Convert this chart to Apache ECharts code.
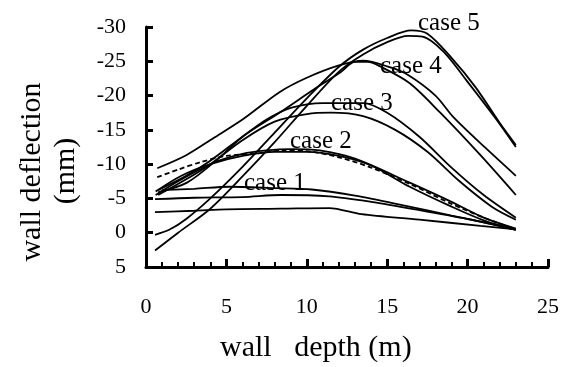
<!DOCTYPE html>
<html>
<head>
<meta charset="utf-8">
<script src="https://cdn.jsdelivr.net/npm/echarts@6/dist/echarts.min.js"></script>
<style>
  html, body { margin: 0; padding: 0; background: #fff; }
  #chart { width: 562px; height: 367px; }
</style>
</head>
<body>
<div id="chart"></div>
<script>
var chart = echarts.init(document.getElementById('chart'));

// wall depth (m), wall deflection (mm) pairs
const case5a = [[0.56, 2.6], [2, 0], [4, -3.5], [6, -8.2], [8, -13.2], [10, -18.5], [12, -23.5], [13.5, -26], [15, -27.8], [16.3, -28.7], [17.2, -28.6], [18.5, -26.4], [20, -22], [21.7, -16.8], [23, -12.5]];
const case5b = [[0.56, 0.3], [1.5, -0.5], [2.5, -2], [4, -5], [6, -9.6], [8, -14.6], [10, -19.6], [12, -24.2], [13.5, -26.7], [15, -28.4], [16.5, -29.5], [17.5, -29], [19, -25.5], [20.5, -21.2], [22, -16], [23, -12.8]];
const case4a = [[0.7, -9.4], [2.5, -11.3], [4.2, -13.8], [6, -16.5], [8.3, -20.5], [10, -22.6], [12, -24.4], [13.5, -25.1], [15.2, -24.1], [16.3, -23], [18, -20], [19.1, -16.9], [21.1, -12.4], [23, -8.3]];
const case4b = [[0.75, -5.9], [2.55, -7.3], [4.5, -10.8], [6, -14], [8.3, -17.5], [10.5, -21], [12.1, -23.4], [13, -24.9], [13.8, -24.9], [14.6, -24.2], [16.4, -21.8], [18.3, -17.5], [20.8, -11.3], [23, -5.5]];
const case3a = [[0.75, -6.2], [2.5, -8.3], [4, -10.5], [6, -14], [7.5, -16.5], [9, -18.2], [11, -18.9], [13.5, -18.9], [15, -17.5], [17, -14], [19, -9.5], [21, -5.5], [23, -2.2]];
const case3b = [[0.75, -5.5], [2.5, -7.8], [4, -10], [6, -13.5], [8, -16.2], [10, -17.3], [11.5, -17.5], [13.5, -17], [15.5, -15], [17.5, -11.8], [19.5, -7.5], [21.5, -3.8], [23, -1.9]];
const case2a = [[0.7, -8.1], [2, -9.2], [3.4, -10.3], [5, -11.2], [7.1, -11.6], [8.5, -12], [10, -11.9], [12, -11], [14, -9.5], [16.5, -7], [19, -4.2], [21, -2.2], [23, -0.5]];
const case2b = [[0.6, -5.5], [2, -7.5], [4.2, -10.2], [6, -11.5], [7.5, -12], [9, -12.2], [10.8, -12], [13, -10.8], [16.4, -7.3], [19, -4.5], [21, -2.2], [23, -0.6]];
const case2c = [[0.6, -6], [2.2, -8.3], [4, -10], [6, -11.2], [8, -11.8], [10, -11.8], [12, -11.2], [14, -9.8], [16.4, -6.7], [19, -3.8], [21, -1.8], [23, -0.4]];
const case1a = [[1, -6.2], [3, -6.4], [5.2, -6.7], [8, -6.5], [10.3, -6.3], [13, -5.4], [16, -4], [19, -2.5], [21, -1.5], [23, -0.4]];
const case1b = [[0.56, -4.9], [3, -5.1], [6, -5.2], [8.4, -5.5], [11.4, -5.3], [14, -4.5], [17, -3.3], [20, -2], [23, -0.5]];
const case1c = [[0.56, -3], [3, -3.2], [5, -3.4], [8.4, -3.5], [11.4, -3.6], [13.4, -2.7], [17, -1.9], [20.8, -1], [23, -0.5]];

const xTicks = [0, 25, 5];
const yTicks = [-30, 5, 5];

const caseLabels = ['case 5', 'case 4', 'case 3', 'case 2', 'case 1'];

const font = 'Liberation Serif';

function line(data, dashed) {
    return {
        type: 'line',
        data: data,
        showSymbol: false,
        smooth: 0.3,
        lineStyle: {
            color: '#000',
            width: 1.8,
            type: dashed ? [5, 3] : 'solid',
        },
        z: 2,
    };
}

chart.setOption({
    animation: false,
    backgroundColor: '#fff',
    grid: { left: 146, right: 13, top: 27, bottom: 100 },
    xAxis: {
        type: 'value',
        min: xTicks[0],
        max: xTicks[1],
        interval: xTicks[2],
        axisLine: { onZero: false, lineStyle: { color: '#000', width: 3 } },
        axisTick: { inside: true, length: 8, lineStyle: { color: '#000', width: 3 } },
        minorTick: { show: true, splitNumber: 5, length: 5, lineStyle: { color: '#000', width: 2 } },
        axisLabel: { color: '#000', fontFamily: font, fontSize: 22, margin: 29 },
        splitLine: { show: false },
    },
    yAxis: {
        type: 'value',
        inverse: true,
        min: yTicks[0],
        max: yTicks[1],
        interval: yTicks[2],
        axisLine: { show: true, onZero: false, lineStyle: { color: '#000', width: 3 } },
        axisTick: { show: true, inside: true, length: 7, lineStyle: { color: '#000', width: 3 } },
        axisLabel: { color: '#000', fontFamily: font, fontSize: 22, margin: 20 },
        splitLine: { show: false },
    },
    graphic: [
        { type: 'text', left: 220, top: 333, style: { text: 'wall   depth (m)', font: '30px "Liberation Serif"', fill: '#000' } },
        { type: 'text', x: 32, y: 172, rotation: Math.PI / 2, style: { text: 'wall deflection', font: '30px "Liberation Serif"', fill: '#000', align: 'center', verticalAlign: 'middle' } },
        { type: 'text', x: 66, y: 171, rotation: Math.PI / 2, style: { text: '(mm)', font: '30px "Liberation Serif"', fill: '#000', align: 'center', verticalAlign: 'middle' } },
        { type: 'text', x: 418, y: 23, style: { text: caseLabels[0], font: '25px "Liberation Serif"', fill: '#000', verticalAlign: 'middle' }, z: 10 },
        { type: 'text', x: 380, y: 66, style: { text: caseLabels[1], font: '25px "Liberation Serif"', fill: '#000', verticalAlign: 'middle' }, z: 10 },
        { type: 'text', x: 331, y: 103, style: { text: caseLabels[2], font: '25px "Liberation Serif"', fill: '#000', verticalAlign: 'middle' }, z: 10 },
        { type: 'text', x: 290, y: 141, style: { text: caseLabels[3], font: '25px "Liberation Serif"', fill: '#000', verticalAlign: 'middle' }, z: 10 },
        { type: 'text', x: 244, y: 183, style: { text: caseLabels[4], font: '25px "Liberation Serif"', fill: '#000', verticalAlign: 'middle' }, z: 10 },
    ],
    series: [
        line(case5a), line(case5b),
        line(case4a), line(case4b),
        line(case3a), line(case3b),
        line(case2a, true), line(case2b), line(case2c),
        line(case1a), line(case1b), line(case1c),
    ],
});

window.addEventListener('resize', function () {
    chart.resize();
});
</script>
</body>
</html>
